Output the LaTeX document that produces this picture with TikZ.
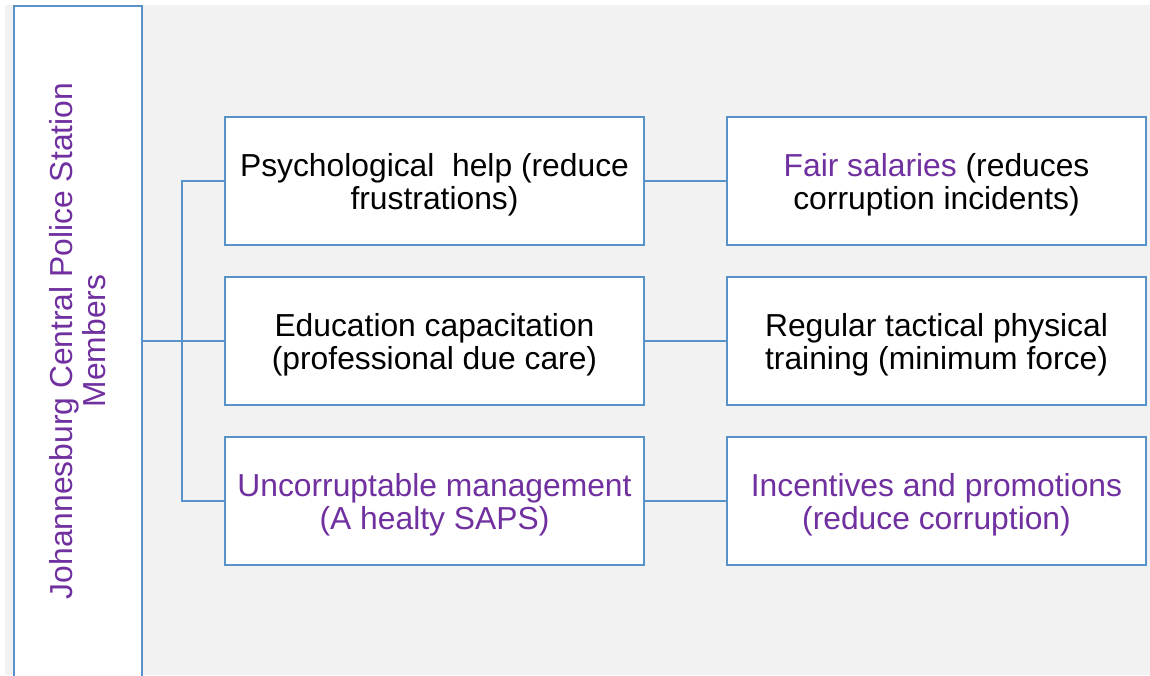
\documentclass[tikz,border=0pt]{standalone}
\usepackage{fontspec}
\setmainfont{Liberation Sans}
\usetikzlibrary{positioning}
\definecolor{boxblue}{RGB}{88,146,200}
\definecolor{textpurple}{RGB}{112,48,160}
\definecolor{bggray}{RGB}{242,242,242}
\newcommand{\lift}{\rule{0pt}{30pt}}

\begin{document}
\begin{tikzpicture}
    [x=1pt,y=-1pt,font=\fontsize{31.8}{33}\selectfont,
    measure/.style={minimum width=419pt,minimum height=128pt,align=center,inner sep=0pt,fill=white,draw=boxblue,line width=2pt},
    staff/.style={rotate=90,minimum width=671pt,minimum height=128pt,align=center,fill=white,draw=boxblue,line width=2pt},
    link/.style={draw=boxblue,line width=2pt}]

    \useasboundingbox (0,0) rectangle (1150,675);
    \clip (0,0) rectangle (1150,675);
    \fill[bggray] (5,5) rectangle (1150,675);

    \node[staff,text=textpurple] (members) at (78,341) {Johannesburg Central Police Station\\Members};

    \node[measure] (psych) at (434.5,181) {\lift Psychological\ \ help (reduce\\frustrations)};
    \node[measure,below=30pt of psych] (edu) {\lift Education capacitation\\(professional due care)};
    \node[measure,below=30pt of edu,text=textpurple] (uncorr) {\lift Uncorruptable management\\(A healty SAPS)};

    \node[measure,right=81pt of psych] (fair) {\lift\textcolor{textpurple}{Fair salaries} (reduces\\corruption incidents)};
    \node[measure,right=81pt of edu] (training) {\lift Regular tactical physical\\training (minimum force)};
    \node[measure,right=81pt of uncorr,text=textpurple] (incent) {\lift Incentives and promotions\\(reduce corruption)};

    \draw[link] (psych.west) -- ++(-42pt,0) |- (uncorr.west);
    \draw[link] (members.south |- edu.west) -- (edu.west);
    \draw[link] (psych) -- (fair);
    \draw[link] (edu) -- (training);
    \draw[link] (uncorr) -- (incent);
\end{tikzpicture}
\end{document}
